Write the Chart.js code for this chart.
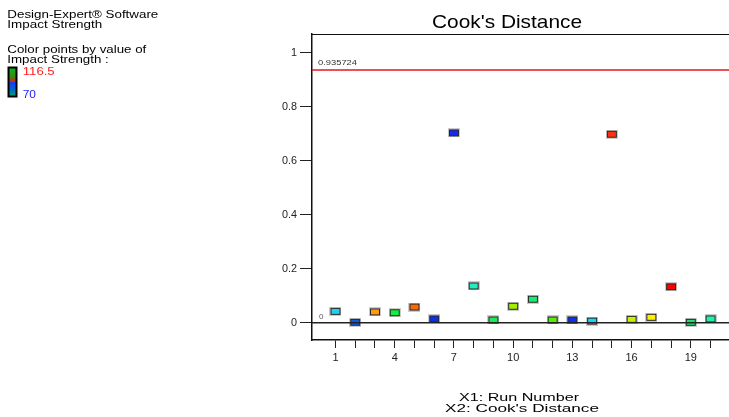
<!DOCTYPE html>
<html>
<head>
<meta charset="utf-8">
<script src="https://cdn.jsdelivr.net/npm/chart.js@4"></script>
<style>
  html, body { margin: 0; padding: 0; background: #fff; overflow: hidden; }
  canvas { display: block; }
</style>
</head>
<body>
<canvas id="chart" width="729" height="417"></canvas>
<script>
// Cook's distance per run, coloured by Impact Strength
const runNumbers = [1, 2, 3, 4, 5, 6, 7, 8, 9, 10, 11, 12, 13, 14, 15, 16, 17, 18, 19, 20];
const cooksDistance = [0.042, 0.0015, 0.040, 0.037, 0.058, 0.014, 0.703, 0.136, 0.010, 0.061,
                       0.087, 0.010, 0.010, 0.006, 0.698, 0.0125, 0.020, 0.133, 0.0015, 0.014];
const impactColors = ['#20d0f0', '#1058e0', '#ff9a10', '#10f040', '#ff6a00', '#1030e0', '#1428f0', '#20f0c0', '#10f050', '#a0f000',
                      '#10f070', '#50f000', '#1030e8', '#10d8f8', '#ff3010', '#c8f000', '#fff000', '#ff0000', '#20e070', '#20f0b0'];
const yTickValues = [0, 0.2, 0.4, 0.6, 0.8, 1];
const yTickLabels = ['0', '0.2', '0.4', '0.6', '0.8', '1'];
const xLabeledRuns = [1, 4, 7, 10, 13, 16, 19];
const limitValue = 0.935724;
const limitLabel = '0.935724';
const baselineValue = 0;
const baselineLabel = '0';
const colorScaleMax = '116.5';
const colorScaleMin = '70';
const titleText = "Cook's Distance";
const headerLines = ['Design-Expert® Software', 'Impact Strength'];
const colorByLines = ['Color points by value of', 'Impact Strength :'];
const axisTitleLines = ['X1: Run Number', "X2: Cook's Distance"];

const FONT = '"Liberation Sans", Arial, Helvetica, sans-serif';

// small framed rectangle used as the marker for each run
function makeMarker(color) {
  const c = document.createElement('canvas');
  c.width = 12; c.height = 9;
  const g = c.getContext('2d');
  g.fillStyle = 'rgba(140,140,140,0.45)';
  g.fillRect(0, 0, 12, 9);
  g.fillStyle = '#262626';
  g.fillRect(1, 1, 10, 7);
  g.fillStyle = color;
  g.fillRect(2, 2, 8, 5);
  return c;
}
const markers = impactColors.map(makeMarker);

// draw text squeezed/stretched to a given width
function fitText(ctx, text, x, y, size, width, align, color) {
  ctx.save();
  ctx.font = size + 'px ' + FONT;
  ctx.fillStyle = color;
  ctx.textBaseline = 'alphabetic';
  ctx.textAlign = 'left';
  const w = ctx.measureText(text).width;
  const sx = width / w;
  const left = align === 'center' ? x - width / 2 : x;
  ctx.translate(left, y);
  ctx.scale(sx, 1);
  ctx.fillText(text, 0, 0);
  ctx.restore();
}

const decorations = {
  id: 'decorations',
  beforeDraw(chart) {
    const ctx = chart.ctx;
    ctx.save();
    ctx.fillStyle = '#fff';
    ctx.fillRect(0, 0, chart.width, chart.height);
    ctx.restore();
  },
  afterDatasetsDraw(chart) {
    const ctx = chart.ctx;
    const area = chart.chartArea;
    const ys = chart.scales.y;
    ctx.save();
    // top frame
    ctx.strokeStyle = '#111';
    ctx.lineWidth = 1;
    ctx.beginPath();
    ctx.moveTo(area.left, area.top + 0.5);
    ctx.lineTo(area.right, area.top + 0.5);
    ctx.stroke();
    // baseline at zero
    const y0 = ys.getPixelForValue(baselineValue);
    ctx.strokeStyle = '#222';
    ctx.lineWidth = 1.5;
    ctx.beginPath();
    ctx.moveTo(area.left, y0);
    ctx.lineTo(area.right, y0);
    ctx.stroke();
    // limit line
    const yl = ys.getPixelForValue(limitValue);
    ctx.strokeStyle = '#e8141c';
    ctx.lineWidth = 1.5;
    ctx.beginPath();
    ctx.moveTo(area.left, yl);
    ctx.lineTo(area.right, yl);
    ctx.stroke();
    ctx.restore();

    fitText(ctx, limitLabel, area.left + 6, yl - 5, 7, 39, 'left', '#333');
    fitText(ctx, baselineLabel, area.left + 7, y0 - 4, 7, 4.5, 'left', '#555');
  },
  afterDraw(chart) {
    const ctx = chart.ctx;
    // title
    fitText(ctx, titleText, 507, 27.5, 19, 150, 'center', '#000');
    // axis titles
    fitText(ctx, axisTitleLines[0], 519, 401, 11.5, 120, 'center', '#000');
    fitText(ctx, axisTitleLines[1], 522, 412, 11.5, 154, 'center', '#000');
    // header text
    fitText(ctx, headerLines[0], 7.3, 18.3, 10.8, 151, 'left', '#000');
    fitText(ctx, headerLines[1], 7.3, 28, 10.8, 95, 'left', '#000');
    fitText(ctx, colorByLines[0], 7.3, 52.7, 10.8, 139, 'left', '#000');
    fitText(ctx, colorByLines[1], 7.3, 62.7, 10.8, 101.5, 'left', '#000');
    // colour bar
    ctx.save();
    ctx.fillStyle = '#000';
    ctx.fillRect(7.5, 66.5, 10, 31);
    const grad = ctx.createLinearGradient(0, 68.5, 0, 95.5);
    grad.addColorStop(0, '#10b020');
    grad.addColorStop(0.3, '#3a8a10');
    grad.addColorStop(0.46, '#c03010');
    grad.addColorStop(0.5, '#ff1010');
    grad.addColorStop(0.52, '#1040ff');
    grad.addColorStop(0.8, '#0068c8');
    grad.addColorStop(1, '#00a070');
    ctx.fillStyle = grad;
    ctx.fillRect(9.5, 68.5, 6, 27);
    ctx.restore();
    fitText(ctx, colorScaleMax, 22.7, 75.3, 10.5, 32, 'left', '#ff2020');
    fitText(ctx, colorScaleMin, 22.7, 98, 10.5, 13.3, 'left', '#2020ff');
  }
};

new Chart(document.getElementById('chart'), {
  type: 'scatter',
  data: {
    datasets: [{
      data: runNumbers.map((r, i) => ({ x: r, y: cooksDistance[i] })),
      pointStyle: markers,
      pointRadius: 5,
      pointHoverRadius: 5
    }]
  },
  options: {
    responsive: false,
    animation: false,
    devicePixelRatio: 1,
    layout: { autoPadding: false, padding: { top: 34, left: 0, right: 0, bottom: 0 } },
    plugins: { legend: { display: false }, tooltip: { enabled: false }, title: { display: false } },
    events: [],
    scales: {
      x: {
        type: 'linear',
        position: 'bottom',
        min: -0.19,
        max: 20.935,
        afterBuildTicks(scale) { scale.ticks = runNumbers.map(v => ({ value: v })); },
        afterFit(scale) { scale.height = 77; scale.paddingLeft = 0; scale.paddingRight = 0; },
        ticks: {
          autoSkip: false,
          maxRotation: 0,
          padding: 3,
          color: '#222',
          font: { family: FONT, size: 11 },
          callback: (v) => xLabeledRuns.includes(v) ? String(v) : ''
        },
        grid: { display: true, drawOnChartArea: false, drawTicks: true, tickLength: 8, color: '#222', lineWidth: 1 },
        border: { display: true, color: '#111', width: 1.5 }
      },
      y: {
        type: 'linear',
        position: 'left',
        min: -0.0641,
        max: 1.0692,
        afterBuildTicks(scale) { scale.ticks = yTickValues.map(v => ({ value: v })); },
        afterFit(scale) { scale.width = 312; scale.paddingTop = 0; scale.paddingBottom = 0; },
        ticks: {
          autoSkip: false,
          padding: 3,
          color: '#222',
          font: { family: FONT, size: 10.8 },
          callback: (v) => yTickLabels[yTickValues.indexOf(v)]
        },
        grid: { display: true, drawOnChartArea: false, drawTicks: true, tickLength: 12, color: '#222', lineWidth: 1 },
        border: { display: true, color: '#111', width: 1.5 }
      }
    }
  },
  plugins: [decorations]
});
</script>
</body>
</html>
